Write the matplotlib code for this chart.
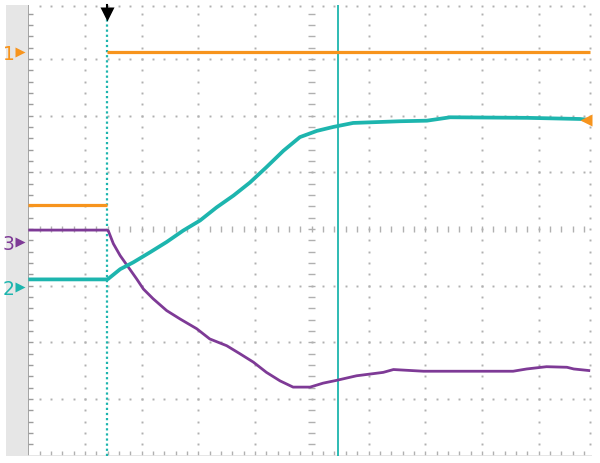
import numpy as np
import matplotlib
matplotlib.use("Agg")
import matplotlib.pyplot as plt
from matplotlib.patches import Rectangle

# ---- data (in screen divisions: x 0..10, y -4..4) ----
trigger_x = 1.39
cursor_x = 5.47

ch1_pre_x = [0.0, 1.39]
ch1_pre_y = [0.42, 0.42]
ch1_post_x = [1.39, 9.91]
ch1_post_y = [3.12, 3.12]

ch2_x = [0.0, 1.39, 1.41, 1.62, 1.85, 2.15, 2.44, 2.73, 3.03, 3.32, 3.62, 3.91,
         4.20, 4.50, 4.79, 5.09, 5.38, 5.73, 6.56, 7.03, 7.44, 8.80, 9.73, 9.91]
ch2_y = [-0.89, -0.89, -0.88, -0.71, -0.59, -0.41, -0.23, -0.03, 0.15, 0.38, 0.59, 0.82,
         1.09, 1.38, 1.62, 1.73, 1.80, 1.87, 1.90, 1.91, 1.97, 1.96, 1.94, 1.92]

ch3_x = [0.0, 1.39, 1.41, 1.50, 1.62, 1.79, 1.91, 2.03, 2.20, 2.44, 2.68, 2.97, 3.20,
         3.50, 3.73, 3.97, 4.20, 4.44, 4.67, 4.97, 5.20, 5.44, 5.79, 6.26, 6.44,
         6.97, 7.85, 8.55, 8.79, 9.14, 9.50, 9.62, 9.91]
ch3_y = [-0.02, -0.02, -0.03, -0.26, -0.47, -0.71, -0.88, -1.06, -1.23, -1.44, -1.59,
         -1.76, -1.94, -2.06, -2.20, -2.35, -2.53, -2.68, -2.79, -2.79, -2.72, -2.67,
         -2.59, -2.53, -2.48, -2.51, -2.51, -2.51, -2.47, -2.43, -2.44, -2.47, -2.50]

marker_labels = ["1", "2", "3"]
marker_levels = [3.13, -1.02, -0.23]

ORANGE = "#f7941d"
TEAL = "#1db5ae"
PURPLE = "#7e3a96"
GRID = "#b0b0b0"

W, H = 600, 464
fig = plt.figure(figsize=(6.0, 4.64), dpi=100)
fig.patch.set_facecolor("white")

# gray strip on the left
fig.patches.append(Rectangle((6 / W, 1 - 457 / H), 22.3 / W, 451 / H,
                             transform=fig.transFigure, facecolor="#e6e6e6",
                             edgecolor="none", zorder=-1))

left_px, right_px, top_px, bot_px = 28.3, 592.0, 6.0, 456.7
div = 56.7
ax = fig.add_axes([left_px / W, 1 - bot_px / H, (right_px - left_px) / W, (bot_px - top_px) / H])
ax.set_xlim(0, (right_px - left_px) / div)
ax.set_ylim(-4, (230 - top_px) / div)
ax.set_facecolor("none")
for s in ax.spines.values():
    s.set_visible(False)
ax.set_xticks([])
ax.set_yticks([])

xminor = np.round(np.arange(0, 9.95, 0.2), 2)
yminor = np.round(np.arange(-4, 3.95, 0.2), 2)

# dotted major grid rows / columns
for yr in [-3, -2, -1, 1, 2, 3]:
    ax.plot(xminor[1:], np.full(len(xminor) - 1, yr), ls="none", marker="s", ms=1.4,
            mfc=GRID, mec="none", zorder=1)
for xc in [1, 2, 3, 4, 6, 7, 8, 9, 9.91]:
    ax.plot(np.full(len(yminor) - 1, xc), yminor[1:], ls="none", marker="s", ms=1.4,
            mfc=GRID, mec="none", zorder=1)
# top edge dots
ax.plot(xminor[1:], np.full(len(xminor) - 1, 3.93), ls="none", marker="s", ms=1.4,
        mfc=GRID, mec="none", zorder=1, clip_on=False)
# center line tick marks
ax.vlines(xminor[1:], -0.045, 0.045, color=GRID, lw=1.0, zorder=1)
ax.hlines(yminor[1:], 5 - 0.06, 5 + 0.06, color=GRID, lw=1.0, zorder=1)
# left border with ticks
ax.axvline(0, color="#9c9c9c", lw=1.3, zorder=1)
ax.hlines(yminor[1:], 0, 0.08, color="#9c9c9c", lw=1.0, zorder=1)
# bottom ticks and faint bottom edge
ax.vlines(xminor[1:], -4, -3.92, color=GRID, lw=1.0, zorder=1)
ax.axhline(-4, color="#e2e2e2", lw=1.2, zorder=1)

# trigger dotted line and cursor line
ax.plot([trigger_x, trigger_x], [-4, 3.72], color=TEAL, lw=1.6, ls=(0, (1, 1.3)), zorder=2)
ax.axvline(cursor_x, color=TEAL, lw=1.3, zorder=2)

# traces
ax.plot(ch1_pre_x, ch1_pre_y, color=ORANGE, lw=2.3, zorder=3, solid_capstyle="butt")
ax.plot(ch1_post_x, ch1_post_y, color=ORANGE, lw=2.3, zorder=3, solid_capstyle="butt")
ax.plot(ch3_x, ch3_y, color=PURPLE, lw=2.0, zorder=3, solid_capstyle="butt")
ax.plot(ch2_x, ch2_y, color=TEAL, lw=2.7, zorder=4, solid_capstyle="butt")

# trigger arrow marker at top
ax.plot([trigger_x, trigger_x], [3.95, 3.85], color="black", lw=1.5, clip_on=False, zorder=5)
ax.plot([trigger_x], [3.80], marker="v", ms=10, color="black", mec="none", clip_on=False, zorder=5)

# right-end reference marker
ax.plot([9.84], [1.93], marker="<", ms=9, color=ORANGE, mec="none", clip_on=False, zorder=5)

# channel markers in left strip
mcolors = [ORANGE, TEAL, PURPLE]
for lab, lev, c in zip(marker_labels, marker_levels, mcolors):
    ax.text(-0.35, lev, lab, color=c, fontsize=13.5, ha="center", va="center_baseline",
            fontfamily="DejaVu Sans", clip_on=False, zorder=6)
    ax.plot([-0.14], [lev], marker=">", ms=6.5, color=c, mec="none", clip_on=False, zorder=6)

fig.savefig("out.png", dpi=100)
